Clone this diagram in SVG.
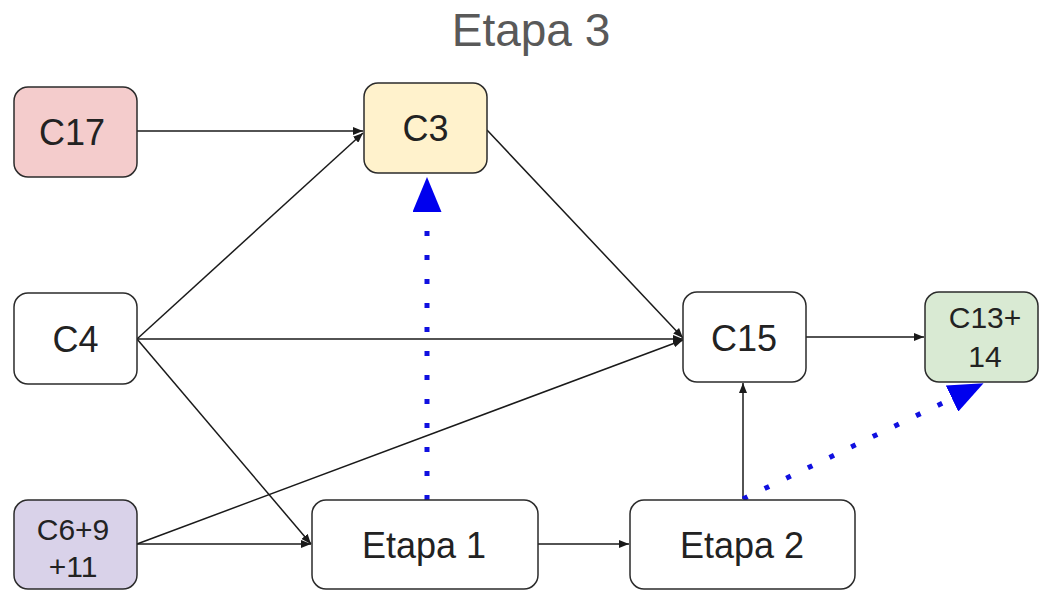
<svg xmlns="http://www.w3.org/2000/svg" width="1039" height="590" viewBox="0 0 1039 590">
  <style>
    .box { stroke: #2b2b2b; stroke-width: 1.5; }
    .lbl { font-family: "Liberation Sans", Arial, sans-serif; fill: #222; text-anchor: middle; }
    .big { font-size: 36px; }
    .small { font-size: 30px; }
    .edge { stroke: #1a1a1a; stroke-width: 1.5; fill: none; marker-end: url(#arrow); }
    .dotted { stroke: #1010e0; stroke-width: 5; fill: none; stroke-dasharray: 5 19; marker-end: url(#bigTri); }
  </style>
  <defs>
    <marker id="arrow" markerUnits="userSpaceOnUse" viewBox="0 0 10 8" markerWidth="10" markerHeight="8" refX="10" refY="4" orient="auto">
      <path d="M0,0 L10,4 L0,8 z" fill="#1a1a1a"/>
    </marker>
    <marker id="bigTri" markerUnits="userSpaceOnUse" viewBox="0 0 35 29" markerWidth="35" markerHeight="29" refX="0" refY="14.5" orient="auto">
      <path d="M0,0 L35,14.5 L0,29 z" fill="#0000ee"/>
    </marker>
  </defs>

  <rect width="1039" height="590" fill="#ffffff"/>

  <text x="531" y="46" font-family="Liberation Sans, Arial, sans-serif" font-size="46" fill="#595959" text-anchor="middle">Etapa 3</text>

  <g id="connectors">
    <line class="edge" x1="137" y1="131" x2="363" y2="131"/>
    <line class="edge" x1="137" y1="339" x2="363" y2="133"/>
    <line class="edge" x1="487" y1="130" x2="683" y2="338"/>
    <line class="edge" x1="137" y1="339" x2="683" y2="339"/>
    <line class="edge" x1="137" y1="544" x2="683" y2="340"/>
    <line class="edge" x1="137" y1="339" x2="311" y2="544"/>
    <line class="edge" x1="137" y1="544" x2="311" y2="544"/>
    <line class="edge" x1="538" y1="544" x2="629" y2="544"/>
    <line class="edge" x1="743" y1="499" x2="743" y2="383"/>
    <line class="edge" x1="806" y1="337" x2="924" y2="337"/>
    <line class="dotted" x1="427" y1="500" x2="427" y2="212"/>
    <line class="dotted" x1="743" y1="499" x2="952" y2="398.5"/>
  </g>

  <g id="c17">
    <rect class="box" x="14" y="87" width="123" height="90" rx="14" fill="#f4cccc"/>
    <text class="lbl big" x="72" y="145">C17</text>
  </g>
  <g id="c3">
    <rect class="box" x="364" y="83" width="123" height="90" rx="14" fill="#fff2cc"/>
    <text class="lbl big" x="425.5" y="141">C3</text>
  </g>
  <g id="c4">
    <rect class="box" x="14" y="293" width="123" height="91" rx="14" fill="#ffffff"/>
    <text class="lbl big" x="75.5" y="352">C4</text>
  </g>
  <g id="c15">
    <rect class="box" x="683" y="292" width="123" height="90" rx="14" fill="#ffffff"/>
    <text class="lbl big" x="744" y="351">C15</text>
  </g>
  <g id="c13-14">
    <rect class="box" x="925" y="292" width="113" height="90" rx="14" fill="#d9ead3"/>
    <text class="lbl small" x="985" y="328">C13+</text>
    <text class="lbl small" x="985" y="367">14</text>
  </g>
  <g id="c6-9-11">
    <rect class="box" x="14" y="500" width="123" height="89" rx="14" fill="#d9d2e9"/>
    <text class="lbl small" x="73" y="540">C6+9</text>
    <text class="lbl small" x="73" y="577">+11</text>
  </g>
  <g id="etapa1">
    <rect class="box" x="312" y="500" width="226" height="89" rx="14" fill="#ffffff"/>
    <text class="lbl big" x="424" y="558">Etapa 1</text>
  </g>
  <g id="etapa2">
    <rect class="box" x="630" y="500" width="225" height="89" rx="14" fill="#ffffff"/>
    <text class="lbl big" x="742" y="558">Etapa 2</text>
  </g>
</svg>
